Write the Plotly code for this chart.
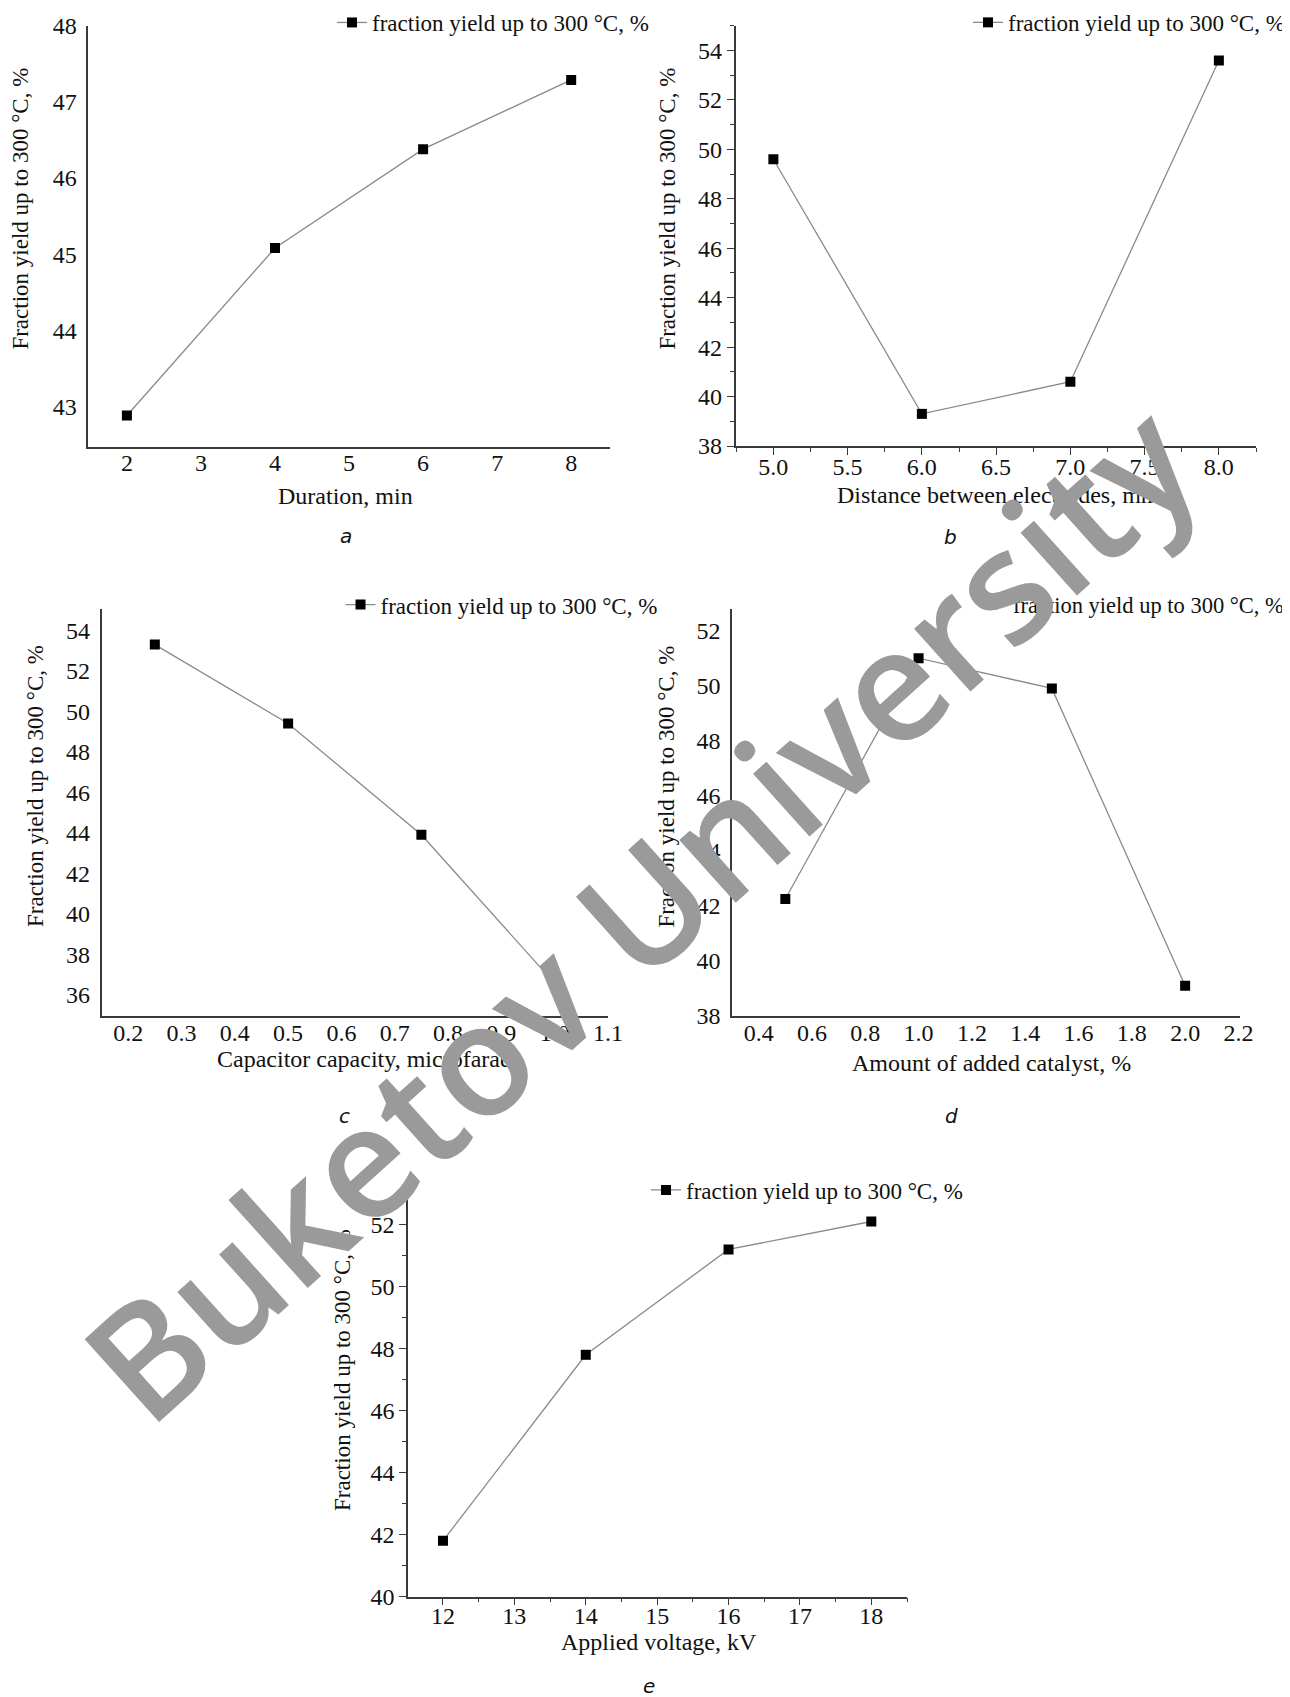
import plotly.graph_objects as go

W, H = 1290, 1697
OFF = 8  # page body margin of the browser

# ---------------- data ----------------
dur_x = [2, 4, 6, 8]
dur_y = [42.88, 45.08, 46.38, 47.29]

dist_x = [5.0, 6.0, 7.0, 8.0]
dist_y = [49.6, 39.3, 40.6, 53.6]

cap_x = [0.25, 0.5, 0.75, 1.0]
cap_y = [53.3, 49.4, 43.9, 36.55]

cat_x = [0.5, 1.0, 1.5, 2.0]
cat_y = [42.25, 51.0, 49.9, 39.1]

volt_x = [12, 14, 16, 18]
volt_y = [41.8, 47.8, 51.2, 52.1]

series_name = "fraction yield up to 300 \u00b0C, %"
y_title = "Fraction yield up to 300 \u00b0C, %"
x_titles = ["Duration, min", "Distance between electrodes, mm",
            "Capacitor capacity, microfarad", "Amount of added catalyst, %",
            "Applied voltage, kV"]
panel_letters = ["a", "b", "c", "d", "e"]
watermark = "Buketov University"

SERIF = "Liberation Serif"
TXT = "#111111"


def px(x):
    return (x - OFF) / W


def py(y):
    return 1 - (y - OFF) / H


# panel geometry in pixels: (left, right, top, bottom)
boxes = [
    (88.4, 609.7, 25.8, 446.7),
    (735.5, 1256.0, 25.8, 446.0),
    (101.5, 608.0, 609.0, 1016.0),
    (732.0, 1239.5, 608.6, 1016.0),
    (408.0, 907.0, 1193.6, 1596.6),
]

fig = go.Figure()

datasets = [(dur_x, dur_y), (dist_x, dist_y), (cap_x, cap_y), (cat_x, cat_y), (volt_x, volt_y)]
for i, (xs, ys) in enumerate(datasets):
    sfx = "" if i == 0 else str(i + 1)
    fig.add_trace(go.Scatter(
        x=xs, y=ys, mode="lines+markers", name=series_name,
        xaxis="x" + sfx, yaxis="y" + sfx,
        legend="legend" + sfx,
        line=dict(color="#8a8a8a", width=1.3),
        marker=dict(symbol="square", size=10, color="#000000"),
        showlegend=True,
    ))

xranges = [[1.48, 8.52], [4.745, 8.25], [0.15, 1.1], [0.3, 2.204], [11.51, 18.5]]
yranges = [[42.47, 48.001], [38, 55.0], [34.94, 55.06], [38, 52.8], [40, 53.0]]
xdticks = [1, 0.5, 0.1, 0.2, 1]
xformats = ["d", ".1f", ".1f", ".1f", "d"]
ydtick = [1, 2, 2, 2, 2]
has_ticks = [False, True, False, False, True]
xminor = [None, 0.25, None, None, 0.5]
yminor = [None, 1, None, None, 1]
x_standoff = [-6, -9, -6, -6, -10]
y_standoff = [5, 0, 5, 5, 0]

layout = dict(
    width=W, height=H,
    margin=dict(l=0, r=0, t=0, b=0, autoexpand=False),
    paper_bgcolor="white", plot_bgcolor="white",
    font=dict(family=SERIF, color=TXT, size=23),
)

for i in range(5):
    sfx = "" if i == 0 else str(i + 1)
    l, r, t, b = boxes[i]
    xa = dict(
        domain=[px(l), px(r)], range=xranges[i], anchor="y" + sfx,
        dtick=xdticks[i], tick0=0, tickformat=xformats[i],
        showgrid=False, zeroline=False, showline=True,
        linecolor="#3a3a3a", linewidth=1.6,
        tickfont=dict(family=SERIF, size=24, color=TXT),
        ticks="outside" if has_ticks[i] else "",
        ticklen=7, tickwidth=1.3, tickcolor="#3a3a3a",
        ticklabelstandoff=x_standoff[i],
    )
    ya = dict(
        domain=[py(b), py(t)], range=yranges[i], anchor="x" + sfx,
        dtick=ydtick[i], tick0=0,
        showgrid=False, zeroline=False, showline=True,
        linecolor="#3a3a3a", linewidth=1.6,
        tickfont=dict(family=SERIF, size=24, color=TXT),
        ticks="outside" if has_ticks[i] else "",
        ticklen=7, tickwidth=1.3, tickcolor="#3a3a3a",
        ticklabelstandoff=y_standoff[i],
    )
    if xminor[i]:
        xa["minor"] = dict(dtick=xminor[i], tick0=0, ticks="outside", ticklen=4,
                           tickwidth=1.2, tickcolor="#3a3a3a", showgrid=False)
    if yminor[i]:
        ya["minor"] = dict(dtick=yminor[i], tick0=0, ticks="outside", ticklen=4,
                           tickwidth=1.2, tickcolor="#3a3a3a", showgrid=False)
    layout["xaxis" + sfx] = xa
    layout["yaxis" + sfx] = ya

# legends: (text start x, center y, font size)
legend_pos = [(372, 22.5, 23), (1008, 22.4, 23), (380.5, 604.6, 23), (1013, 604.6, 22.5), (686, 1190, 23)]
for i, (tx, ty, fs) in enumerate(legend_pos):
    sfx = "" if i == 0 else str(i + 1)
    layout["legend" + sfx] = dict(
        x=px(tx - 40), y=py(ty), xanchor="left", yanchor="middle",
        bgcolor="rgba(0,0,0,0)", borderwidth=0,
        font=dict(family=SERIF, size=fs, color=TXT),
        itemwidth=30,
    )

annotations = []
# y-axis titles (x center, y center)
ytitle_pos = [(20.6, 209), (667.6, 209), (35, 786), (665.6, 787), (342, 1370)]
for (xc, yc) in ytitle_pos:
    annotations.append(dict(
        text=y_title, x=px(xc), y=py(yc), xref="paper", yref="paper",
        xanchor="center", yanchor="middle", showarrow=False, textangle=-90,
        font=dict(family=SERIF, size=23, color=TXT),
    ))
# x-axis titles
xtitle_pos = [(345.6, 496), (998.8, 495), (364, 1059), (991.8, 1063), (658.6, 1642)]
for txt, (xc, yc) in zip(x_titles, xtitle_pos):
    annotations.append(dict(
        text=txt, x=px(xc), y=py(yc), xref="paper", yref="paper",
        xanchor="center", yanchor="middle", showarrow=False,
        font=dict(family=SERIF, size=24, color=TXT),
    ))
# panel letters
letter_pos = [(346, 536), (950, 537), (345, 1116), (951.5, 1116), (648.5, 1686)]
for txt, (xc, yc) in zip(panel_letters, letter_pos):
    annotations.append(dict(
        text="<i>" + txt + "</i>", x=px(xc), y=py(yc), xref="paper", yref="paper",
        xanchor="center", yanchor="middle", showarrow=False,
        font=dict(family="DejaVu Sans", size=20, color="#111111"),
    ))
# watermark
annotations.append(dict(
    text=watermark, x=px(638), y=py(910), xref="paper", yref="paper",
    xanchor="center", yanchor="middle", showarrow=False, textangle=-42,
    font=dict(family="Open Sans", size=156, weight=600, color="#9a9a9a"),
))
layout["annotations"] = annotations

fig.update_layout(**layout)
fig.write_html("out.html")
